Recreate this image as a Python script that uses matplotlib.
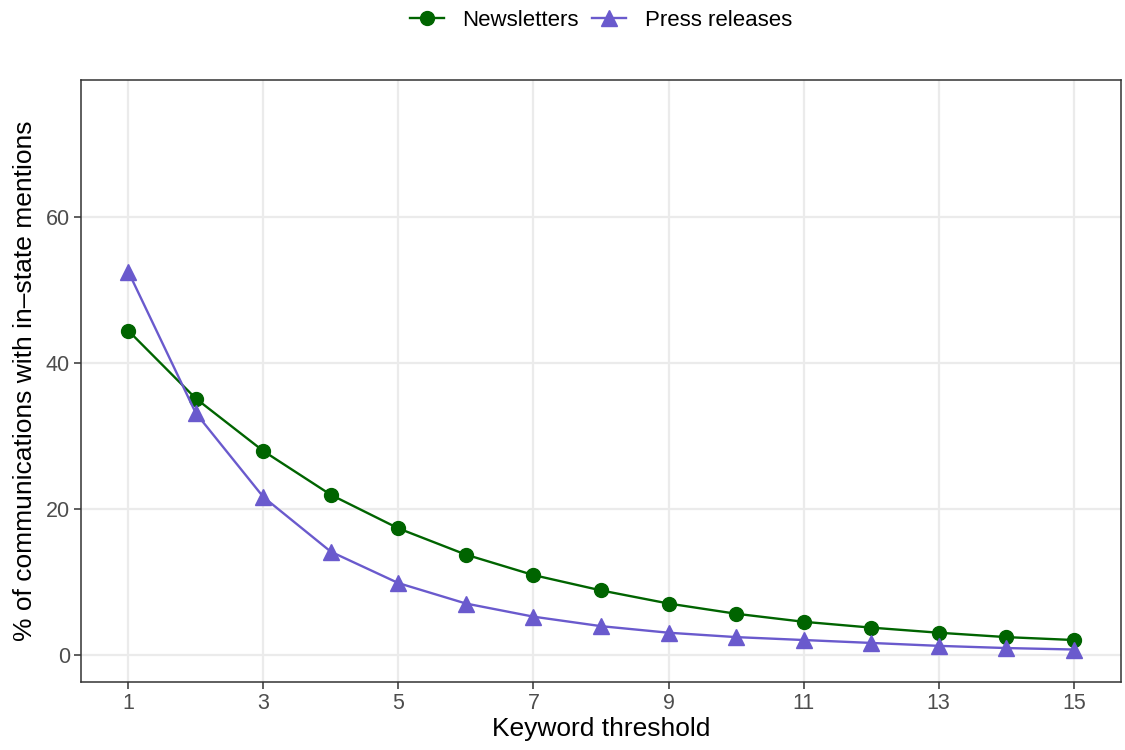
import matplotlib
matplotlib.use("Agg")
import matplotlib.pyplot as plt

plt.rcParams['font.family'] = ['Liberation Sans', 'DejaVu Sans']

thresholds = list(range(1, 16))
newsletters = [44.4, 35.1, 27.9, 21.9, 17.3, 13.7, 10.9, 8.8, 7.0, 5.6, 4.5, 3.7, 3.0, 2.4, 2.0]
press_releases = [52.5, 33.1, 21.6, 14.1, 9.8, 7.0, 5.2, 3.9, 3.0, 2.4, 2.0, 1.6, 1.2, 0.9, 0.7]
x_ticks = [1, 3, 5, 7, 9, 11, 13, 15]
y_ticks = [0, 20, 40, 60]

fig = plt.figure(figsize=(11.25, 7.5), dpi=100)
ax = fig.add_axes([0.072, 0.0907, 0.9245, 0.8026])

grid_col = '#EBEBEB'
for xv in x_ticks:
    ax.axvline(xv, color=grid_col, lw=1.6, zorder=0)
for yv in y_ticks:
    ax.axhline(yv, color=grid_col, lw=1.6, zorder=0)

ax.plot(thresholds, newsletters, color='#006400', lw=1.7, marker='o',
        markersize=10, label='Newsletters', zorder=3)
ax.plot(thresholds, press_releases, color='#6A5ACD', lw=1.7, marker='^',
        markersize=11, label='Press releases', zorder=3)

ax.set_xlim(0.3, 15.7)
ax.set_ylim(-3.75, 78.75)
ax.set_xticks(x_ticks)
ax.set_yticks(y_ticks)
ax.tick_params(axis='both', length=5, width=1.1, color='#333333',
               labelsize=15.5, labelcolor='#4D4D4D', pad=3)
for s in ax.spines.values():
    s.set_color('#333333')
    s.set_linewidth(1.1)

ax.set_xlabel('Keyword threshold', fontsize=19, color='black', labelpad=2)
ax.set_ylabel('% of communications with in\u2013state mentions', fontsize=19,
              color='black', labelpad=6)

# legend centred over the plotting panel
panel_cx = 0.072 + 0.9245 / 2
fig.legend(loc='upper center', ncol=2, bbox_to_anchor=(panel_cx, 1.013),
           frameon=False, fontsize=16, handlelength=1.5, columnspacing=0.6,
           handletextpad=0.85)

fig.savefig('out.png', dpi=100, facecolor='white')
